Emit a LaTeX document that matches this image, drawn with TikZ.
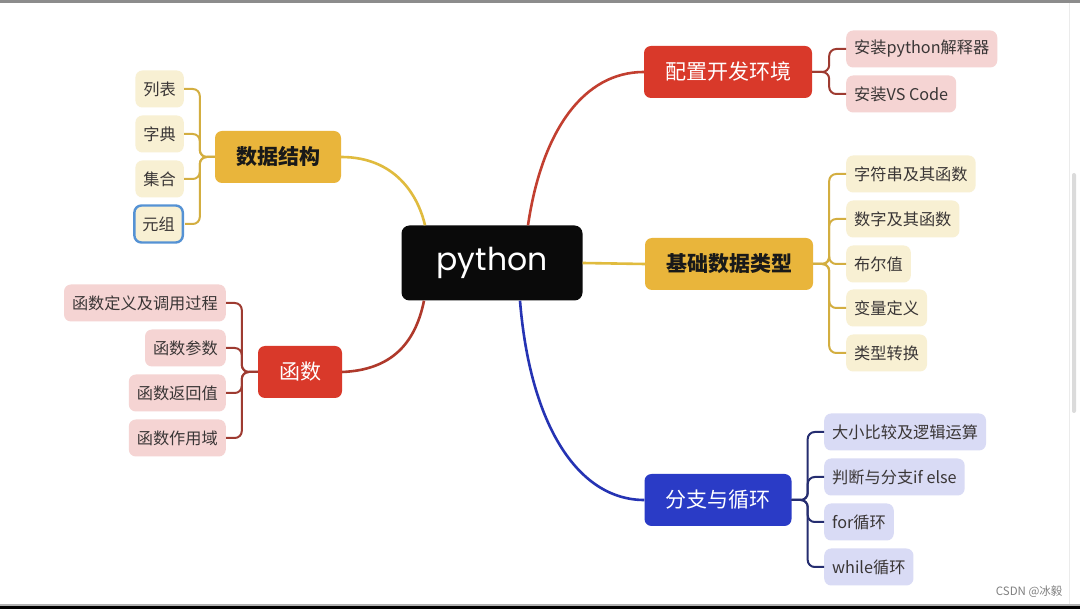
\documentclass[tikz,border=0pt]{standalone}
\usepackage{fontspec}
\setmainfont{Noto Sans CJK SC}
\newfontfamily\pyfont{Poppins}
\usepackage{tikz}
\usetikzlibrary{shapes,arrows}
\definecolor{redbox}{HTML}{D9392A}
\definecolor{redkid}{HTML}{F5D4D3}
\definecolor{redline}{HTML}{C23F30}
\definecolor{redkidline}{HTML}{9E3B31}
\definecolor{goldbox}{HTML}{E9B53B}
\definecolor{goldkid}{HTML}{F8F0D3}
\definecolor{goldline}{HTML}{E0BB3E}
\definecolor{goldkidline}{HTML}{D3AE40}
\definecolor{bluebox}{HTML}{2A3BC6}
\definecolor{bluekid}{HTML}{D9DBF5}
\definecolor{blueline}{HTML}{2533B3}
\definecolor{bluekidline}{HTML}{252D70}
\definecolor{kidtext}{HTML}{3A3636}
\tikzstyle{root} = [rectangle, rounded corners=8pt, fill=black!96, text=white, minimum width=181pt, minimum height=75pt, font=\pyfont\fontsize{31.5}{31.5}\selectfont]
\tikzstyle{branch} = [rectangle, rounded corners=7pt, minimum height=52pt, inner xsep=21pt, font=\fontsize{21}{21}\selectfont]
\tikzstyle{leaf} = [rectangle, rounded corners=7pt, minimum height=37pt, inner xsep=8pt, text=kidtext, font=\fontsize{16.2}{16.2}\selectfont]
\tikzstyle{stem} = [line width=2.6pt]
\tikzstyle{twig} = [line width=2pt, rounded corners=7pt]

\begin{document}
\begin{tikzpicture}[x=1pt, y=-1pt]
\useasboundingbox (0,0) rectangle (1080,609);
\fill[white] (0,0) rectangle (1080,609);
\fill[black!45] (0,0) rectangle (1080,3);
\fill[black!30] (0,604) rectangle (1080,606);
\fill[black] (0,606) rectangle (1080,609);
\draw[black!8, line width=1pt] (1069,3) -- (1069,604);
\fill[black!14, rounded corners=2pt] (1072,173) rectangle (1076,413);

% centre
\node (py) [root] at (492,263) {python};

% right branches
\node (cfg) [branch, fill=redbox, text=white] at (728,72) {配置开发环境};
\node (bdt) [branch, fill=goldbox, text=black!90, font=\fontsize{21}{21}\selectfont\bfseries] at (729,264) {基础数据类型};
\node (br) [branch, fill=bluebox, text=white] at (718,500) {分支与循环};

% left branches
\node (ds) [branch, fill=goldbox, text=black!90, font=\fontsize{21}{21}\selectfont\bfseries] at (278,157) {数据结构};
\node (fn) [branch, fill=redbox, text=white] at (300,372) {函数};

% leaves of cfg
\node (cfg1) [leaf, fill=redkid, anchor=west] at (846,49) {安装python解释器};
\node (cfg2) [leaf, fill=redkid, anchor=west] at (846,94) {安装VS Code};

% leaves of bdt
\node (bdt1) [leaf, fill=goldkid, anchor=west] at (846,174) {字符串及其函数};
\node (bdt2) [leaf, fill=goldkid, anchor=west] at (846,219) {数字及其函数};
\node (bdt3) [leaf, fill=goldkid, anchor=west] at (846,264) {布尔值};
\node (bdt4) [leaf, fill=goldkid, anchor=west] at (846,308) {变量定义};
\node (bdt5) [leaf, fill=goldkid, anchor=west] at (846,353) {类型转换};

% leaves of br
\node (br1) [leaf, fill=bluekid, anchor=west] at (824,432) {大小比较及逻辑运算};
\node (br2) [leaf, fill=bluekid, anchor=west] at (824,477) {判断与分支if else};
\node (br3) [leaf, fill=bluekid, anchor=west] at (824,522) {for循环};
\node (br4) [leaf, fill=bluekid, anchor=west] at (824,567) {while循环};

% leaves of ds
\node (ds1) [leaf, fill=goldkid, anchor=east] at (184,89) {列表};
\node (ds2) [leaf, fill=goldkid, anchor=east] at (184,134) {字典};
\node (ds3) [leaf, fill=goldkid, anchor=east] at (184,179) {集合};
\node (ds4) [leaf, fill=goldkid, anchor=east, draw=cyan!55!blue!70, line width=2.4pt] at (184,224) {元组};

% leaves of fn
\node (fn1) [leaf, fill=redkid, anchor=east] at (226,303) {函数定义及调用过程};
\node (fn2) [leaf, fill=redkid, anchor=east] at (226,348) {函数参数};
\node (fn3) [leaf, fill=redkid, anchor=east] at (226,393) {函数返回值};
\node (fn4) [leaf, fill=redkid, anchor=east] at (226,438) {函数作用域};

\node (mark) [text=black!50, font=\fontsize{11.5}{11.5}\selectfont, anchor=east] at (1066,592) {CSDN @冰毅};

% stems from the centre
\draw [stem, redline] ([xshift=36pt]py.north) .. controls (542,130) and (584,72) .. (cfg.west);
\draw [stem, goldline] (py.east) -- (bdt.west);
\draw [stem, blueline] ([xshift=28pt]py.south) .. controls (530,425) and (578,500) .. (br.west);
\draw [stem, goldline] ([xshift=-67pt]py.north) .. controls (418,195) and (395,157) .. (ds.east);
\draw [stem, redline!90!black] ([xshift=-68pt]py.south) .. controls (415,345) and (390,370) .. (fn.east);

% twigs to the leaves
\draw [twig, redkidline] (cfg.east) -- +(17,0) |- (cfg1.west);
\draw [twig, redkidline] (cfg.east) -- +(17,0) |- (cfg2.west);
\draw [twig, goldkidline] (bdt.east) -- +(16,0) |- (bdt1.west);
\draw [twig, goldkidline] (bdt.east) -- +(16,0) |- (bdt2.west);
\draw [twig, goldkidline] (bdt.east) -- +(16,0) |- (bdt3.west);
\draw [twig, goldkidline] (bdt.east) -- +(16,0) |- (bdt4.west);
\draw [twig, goldkidline] (bdt.east) -- +(16,0) |- (bdt5.west);
\draw [twig, bluekidline] (br.east) -- +(16,0) |- (br1.west);
\draw [twig, bluekidline] (br.east) -- +(16,0) |- (br2.west);
\draw [twig, bluekidline] (br.east) -- +(16,0) |- (br3.west);
\draw [twig, bluekidline] (br.east) -- +(16,0) |- (br4.west);
\draw [twig, goldkidline] (ds.west) -- +(-15,0) |- (ds1.east);
\draw [twig, goldkidline] (ds.west) -- +(-15,0) |- (ds2.east);
\draw [twig, goldkidline] (ds.west) -- +(-15,0) |- (ds3.east);
\draw [twig, goldkidline] (ds.west) -- +(-15,0) |- ([xshift=1.2pt]ds4.east);
\draw [twig, redkidline] (fn.west) -- +(-16,0) |- (fn1.east);
\draw [twig, redkidline] (fn.west) -- +(-16,0) |- (fn2.east);
\draw [twig, redkidline] (fn.west) -- +(-16,0) |- (fn3.east);
\draw [twig, redkidline] (fn.west) -- +(-16,0) |- (fn4.east);
\end{tikzpicture}
\end{document}
